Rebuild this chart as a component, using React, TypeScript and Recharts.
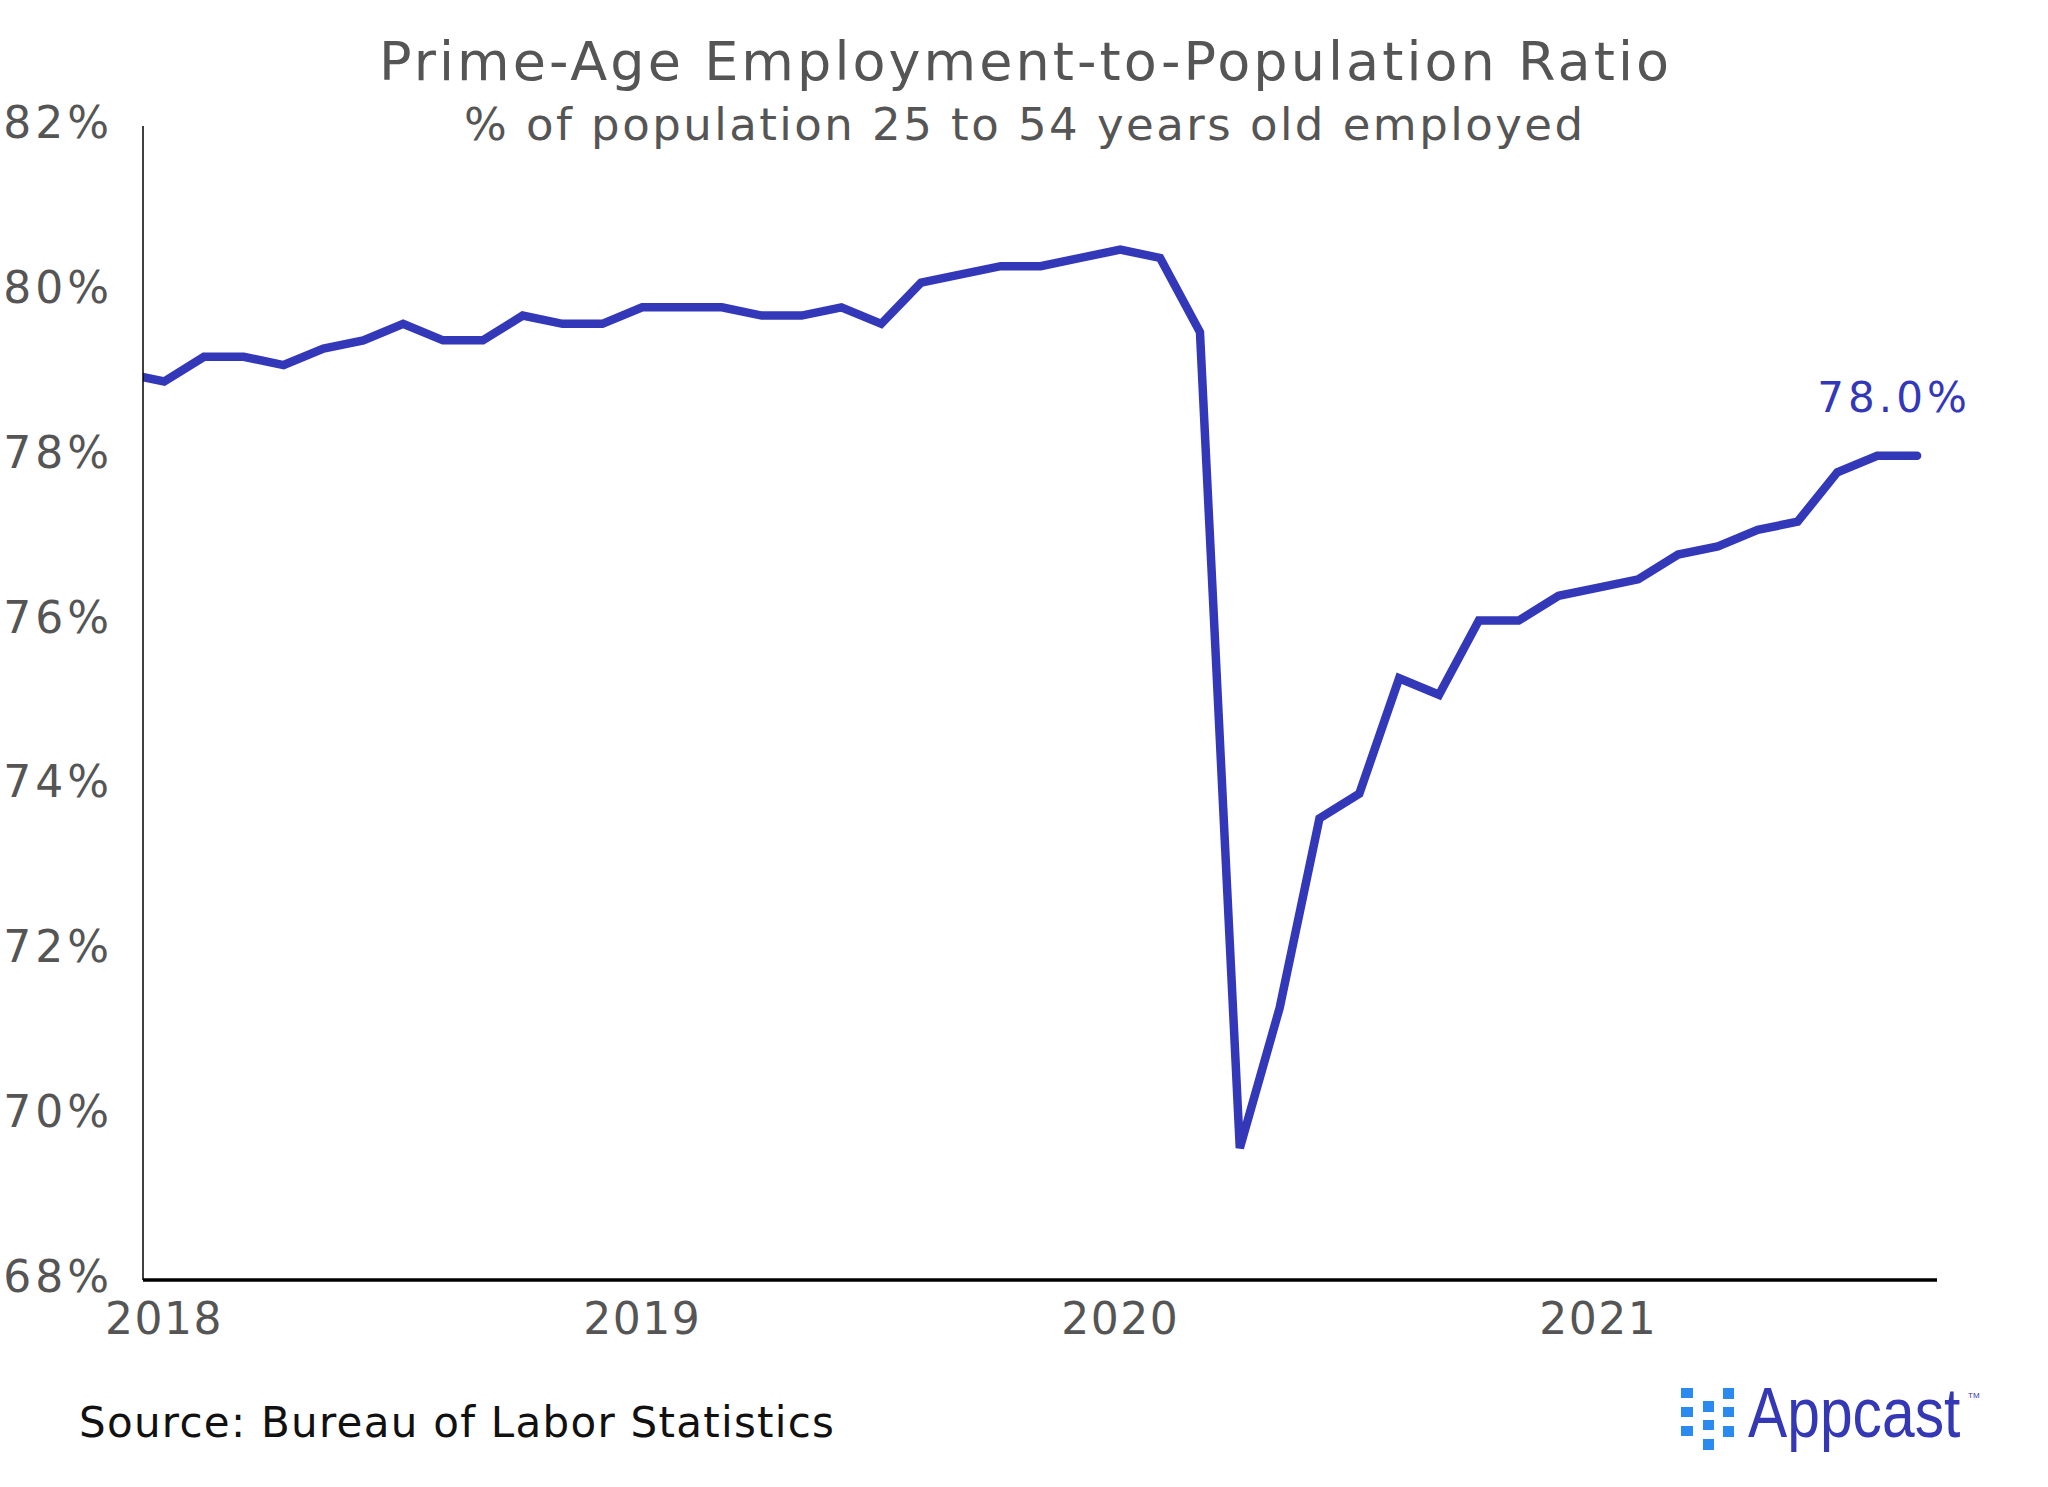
import React from 'react';
import { LineChart, Line, XAxis, YAxis, LabelList } from 'recharts';

// Prime-age (25-54) employment-to-population ratio, monthly, % (BLS)
const months = [
  '2017-12',
  '2018-01', '2018-02', '2018-03', '2018-04', '2018-05', '2018-06',
  '2018-07', '2018-08', '2018-09', '2018-10', '2018-11', '2018-12',
  '2019-01', '2019-02', '2019-03', '2019-04', '2019-05', '2019-06',
  '2019-07', '2019-08', '2019-09', '2019-10', '2019-11', '2019-12',
  '2020-01', '2020-02', '2020-03', '2020-04', '2020-05', '2020-06',
  '2020-07', '2020-08', '2020-09', '2020-10', '2020-11', '2020-12',
  '2021-01', '2021-02', '2021-03', '2021-04', '2021-05', '2021-06',
  '2021-07', '2021-08', '2021-09',
];

const ratio = [
  79.0,
  78.9, 79.2, 79.2, 79.1, 79.3, 79.4, 79.6, 79.4, 79.4, 79.7, 79.6, 79.6,
  79.8, 79.8, 79.8, 79.7, 79.7, 79.8, 79.6, 80.1, 80.2, 80.3, 80.3, 80.4,
  80.5, 80.4, 79.5, 69.6, 71.3, 73.6, 73.9, 75.3, 75.1, 76.0, 76.0, 76.3,
  76.4, 76.5, 76.8, 76.9, 77.1, 77.2, 77.8, 78.0, 78.0,
];

const yearLabels = ['2018', '2019', '2020', '2021'];
const yTicks = [68, 70, 72, 74, 76, 78, 80, 82];

const LINE_COLOR = '#3338b8';
const TEXT_GRAY = '#555555';
const FONT = '"DejaVu Sans", sans-serif';
const LOGO_FONT = '"Liberation Sans", Arial, sans-serif';

// t = months since Jan 2018 (Dec 2017 sits just outside the axis and gets clipped)
const data = months.map((m, i) => ({ month: m, t: i - 1, ratio: ratio[i] }));
const yearTicks = yearLabels.map((y) => data.find((d) => d.month === `${y}-01`)!.t);

const XTick = ({ x, y, payload }: any) => {
  const label = months[payload.value + 1].slice(0, 4);
  return (
    <text x={x} y={y} textAnchor="middle" fill={TEXT_GRAY} fontSize={44}
      fontFamily={FONT} letterSpacing={1.5}>
      {label}
    </text>
  );
};

const YTick = ({ x, y, payload }: any) => (
  <text x={x} y={y} dy={12} textAnchor="end" fill={TEXT_GRAY} fontSize={44}
    fontFamily={FONT} letterSpacing={4}>
    {`${payload.value}%`}
  </text>
);

const LastLabel = (props: any) => {
  const { x, y, value, index } = props;
  if (index !== data.length - 1) return null;
  return (
    <text x={x - 23} y={y - 44} textAnchor="middle" fill={LINE_COLOR} fontSize={42}
      fontFamily={FONT} letterSpacing={4}>
      {`${Number(value).toFixed(1)}%`}
    </text>
  );
};

const Overlay = () => (
  <svg width={2048} height={1487}
    style={{ position: 'absolute', left: 0, top: 0, pointerEvents: 'none' }}>
    <text x={379} y={80} fill={TEXT_GRAY} fontSize={54} fontFamily={FONT}
      textLength={1290} lengthAdjust="spacing">
      Prime-Age Employment-to-Population Ratio
    </text>
    <text x={464} y={140} fill={TEXT_GRAY} fontSize={45} fontFamily={FONT}
      textLength={1119} lengthAdjust="spacing">
      % of population 25 to 54 years old employed
    </text>
    <text x={79} y={1437} fill="#111111" fontSize={42} fontFamily={FONT}
      textLength={755} lengthAdjust="spacing">
      Source: Bureau of Labor Statistics
    </text>
    {/* Appcast logo */}
    <g fill="#2a8af0">
      <rect x={1681} y={1388} width={12} height={10} />
      <rect x={1681} y={1407} width={12} height={10} />
      <rect x={1681} y={1426} width={12} height={10} />
      <rect x={1703} y={1401} width={11} height={11} />
      <rect x={1703} y={1420} width={11} height={10} />
      <rect x={1703} y={1439} width={11} height={11} />
      <rect x={1723} y={1388} width={11} height={11} />
      <rect x={1723} y={1407} width={11} height={10} />
      <rect x={1723} y={1426} width={11} height={11} />
    </g>
    <g transform="translate(1748,1437) scale(0.84,1)">
      <text x={0} y={0} fill="#3538b5" fontSize={70} fontFamily={LOGO_FONT}>Appcast</text>
    </g>
    <text x={1968} y={1398} fill="#3538b5" fontSize={8} fontFamily={LOGO_FONT}>TM</text>
  </svg>
);

export default function App() {
  return (
    <div style={{ position: 'absolute', left: 0, top: 0, width: 2048, height: 1487, background: '#fff' }}>
      <LineChart width={2048} height={1487} data={data}
        margin={{ top: 126, right: 111, bottom: 147, left: 43 }}>
        <XAxis dataKey="t" type="number" domain={[-0.53, 44.5]} allowDataOverflow
          ticks={yearTicks} interval={0} height={60} tickSize={0} tickMargin={54}
          tickLine={false} axisLine={{ stroke: '#000', strokeWidth: 3.5 }} tick={<XTick />} />
        <YAxis type="number" domain={[68, 82]} ticks={yTicks} interval={0} width={100}
          tickSize={0} tickMargin={30} tickLine={false}
          axisLine={{ stroke: '#000', strokeWidth: 1.5 }} tick={<YTick />} />
        <Line type="linear" dataKey="ratio" stroke={LINE_COLOR} strokeWidth={8.5} dot={false}
          strokeLinecap="round" strokeLinejoin="miter" strokeMiterlimit={2}
          isAnimationActive={false}>
          <LabelList dataKey="ratio" content={<LastLabel />} />
        </Line>
      </LineChart>
      <Overlay />
    </div>
  );
}
